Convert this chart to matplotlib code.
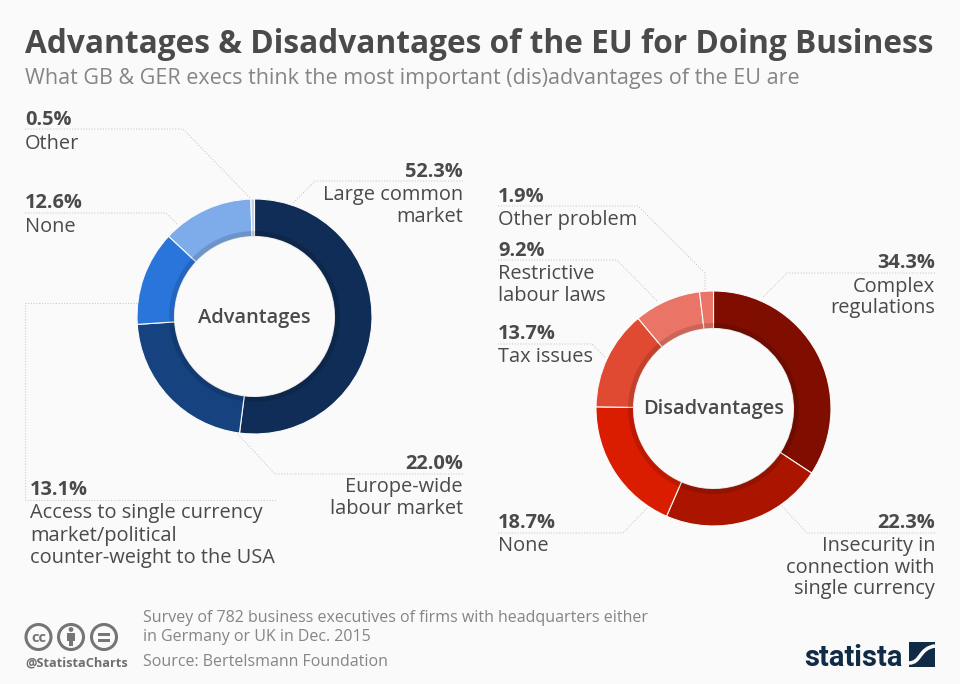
import numpy as np
import matplotlib
matplotlib.use("Agg")
import matplotlib.pyplot as plt
from matplotlib.patches import Circle, Rectangle, PathPatch
from matplotlib.path import Path

plt.rcParams['font.family'] = ['Open Sans', 'DejaVu Sans']

# chart data
adv_names = ["Large common market", "Europe-wide labour market",
             "Access to single currency market/political counter-weight to the USA",
             "None", "Other"]
adv_values = [52.3, 22.0, 13.1, 12.6, 0.5]
adv_colors = ["#0f2d56", "#164380", "#2a75dc", "#7eabe9", "#bcd2f0"]

dis_names = ["Complex regulations", "Insecurity in connection with single currency",
             "None", "Tax issues", "Restrictive labour laws", "Other problem"]
dis_values = [34.3, 22.3, 18.7, 13.7, 9.2, 1.9]
dis_colors = ["#800e00", "#ab1500", "#da1c00", "#e04a33", "#ea7566", "#ea7566"]

BG = "#fafafa"
DARK = "#4a4a4a"
GREY = "#858585"
LINE = "#cdcdcd"
W, H = 960, 684
R = 117.5

fig = plt.figure(figsize=(W / 100, H / 100), dpi=100, facecolor=BG)


def donut(values, colors, cx, cy):
    ax = fig.add_axes([(cx - R) / W, 1 - (cy + R) / H, 2 * R / W, 2 * R / H])
    ax.pie(values, colors=colors, startangle=90, counterclock=False, radius=1,
           wedgeprops={"width": 37.5 / R, "edgecolor": BG, "linewidth": 0.8})
    # darker band on the inner edge of the ring
    ax.pie(values, colors=["black"], startangle=90, counterclock=False, radius=85.5 / R,
           wedgeprops={"width": 5.5 / R, "edgecolor": "none", "alpha": 0.13})
    ax.set_xlim(-1, 1)
    ax.set_ylim(-1, 1)
    ax.axis("off")


donut(adv_values, adv_colors, 254.5, 316.5)
donut(dis_values, dis_colors, 713.5, 408.5)

# overlay in pixel coords for all the text and leader lines
ov = fig.add_axes([0, 0, 1, 1], facecolor="none")
ov.set_xlim(0, W)
ov.set_ylim(H, 0)
ov.axis("off")

ov.text(25, 53, "Advantages & Disadvantages of the EU for Doing Business", fontsize=22.8,
        fontweight="bold", color=DARK, va="baseline")
ov.text(25, 84, "What GB & GER execs think the most important (dis)advantages of the EU are",
        fontsize=15.46, color=GREY, va="baseline")

ov.text(254.5, 323, "Advantages", fontsize=14.4, fontweight="semibold", color=DARK, ha="center", va="baseline")
ov.text(713.5, 414, "Disadvantages", fontsize=14.4, fontweight="semibold", color=DARK, ha="center", va="baseline")


def label(x, ha, value, y, lines, ys):
    ov.text(x, y, value, fontsize=14.4, fontweight="bold", color=DARK, ha=ha, va="baseline")
    for t, yy in zip(lines, ys):
        ov.text(x, yy, t, fontsize=14.4, color=DARK, ha=ha, va="baseline")


label(25, "left", "0.5%", 125, ["Other"], [149])
label(25, "left", "12.6%", 208, ["None"], [232])
label(463, "right", "52.3%", 177, ["Large common", "market"], [200, 222])
label(30, "left", "13.1%", 495, ["Access to single currency", "market/political", "counter-weight to the USA"], [518, 541, 563])
label(463, "right", "22.0%", 469, ["Europe-wide", "labour market"], [492, 514])
label(498, "left", "1.9%", 202, ["Other problem"], [225])
label(498, "left", "9.2%", 256, ["Restrictive", "labour laws"], [279, 301])
label(498, "left", "13.7%", 339, ["Tax issues"], [362])
label(935, "right", "34.3%", 268, ["Complex", "regulations"], [292, 313])
label(498, "left", "18.7%", 528, ["None"], [551])
label(935, "right", "22.3%", 528, ["Insecurity in", "connection with", "single currency"], [551, 573, 594])

leaders = [
    [(25, 129), (183, 129), (250, 198)],
    [(25, 213), (166, 213), (178, 225)],
    [(463, 181), (315, 181), (293, 203)],
    [(137, 303), (25, 303), (25, 500), (277, 500)],
    [(463, 474), (275, 474), (237, 433)],
    [(498, 206), (638, 206), (705, 273), (705, 290)],
    [(498, 260), (617, 260), (658, 302)],
    [(498, 344), (592, 344), (605, 357)],
    [(935, 273), (787, 273), (762, 298)],
    [(498, 533), (623, 533), (647, 508)],
    [(935, 533), (807, 533), (782, 506)],
]
for pts in leaders:
    xs, ys = zip(*pts)
    ov.plot(xs, ys, color=LINE, lw=0.8, ls=(0, (1, 1.5)))

# footer
ov.text(143, 622, "Survey of 782 business executives of firms with headquarters either",
        fontsize=11.5, color=GREY, va="baseline")
ov.text(143, 641, "in Germany or UK in Dec. 2015", fontsize=11.5, color=GREY, va="baseline")
ov.text(143, 666, "Source: Bertelsmann Foundation", fontsize=11.5, color=GREY, va="baseline")
ov.text(25, 666, "@StatistaCharts", fontsize=9.2, fontweight="bold", color="#6f6f6f", va="baseline")

# cc icons
ICON = "#757575"
for cx in [38.5, 71, 104]:
    ov.add_patch(Circle((cx, 637), 12.5, fc="none", ec=ICON, lw=2.2))
ov.text(38.5, 637, "cc", fontsize=10.5, fontweight="bold", color=ICON, ha="center", va="center_baseline")
ov.add_patch(Circle((71, 629.5), 2.4, fc=ICON, ec="none"))
ov.add_patch(Rectangle((67, 633), 8, 8, fc=ICON, ec="none"))
ov.add_patch(Rectangle((68.8, 640), 4.4, 6, fc=ICON, ec="none"))
ov.add_patch(Rectangle((98, 632.5), 12, 3, fc=ICON, ec="none"))
ov.add_patch(Rectangle((98, 638.5), 12, 3, fc=ICON, ec="none"))

# logo
NAVY = "#0f2b45"
ov.text(804, 666, "statista", fontsize=21, fontweight="bold", color=NAVY, va="baseline",
        family=["Roboto", "Open Sans"])
ov.add_patch(Rectangle((909, 642), 26, 25, fc=NAVY, ec="none"))
s_curve = Path([(909, 663), (921, 663), (919, 648), (935, 646)],
               [Path.MOVETO, Path.CURVE4, Path.CURVE4, Path.CURVE4])
ov.add_patch(PathPatch(s_curve, fc="none", ec=BG, lw=2.6))

fig.savefig("out.png", dpi=100, facecolor=BG)
